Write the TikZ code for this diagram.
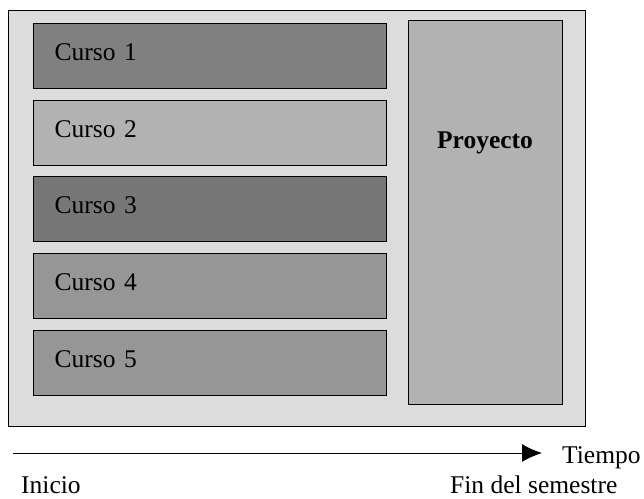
\documentclass[tikz,border=0pt]{standalone}
\usepackage{fontspec}
\setmainfont{Liberation Serif}
\usetikzlibrary{positioning,arrows.meta}
\definecolor{fondo}{HTML}{DCDCDC}
\definecolor{oscuro}{HTML}{808080}
\definecolor{claro}{HTML}{B2B2B2}
\definecolor{masoscuro}{HTML}{777777}
\definecolor{medio}{HTML}{969696}
\tikzset{
curso/.style={
  draw,
  rectangle,
  line width=1.3pt,
  minimum width=353pt,
  minimum height=65pt,
  inner xsep=21pt,
  text width=311pt,
  text height=18pt,
  text depth=9pt,
  align=left,
  anchor=north west
  },
label/.style={draw=none, fill=none, inner sep=0pt, anchor=base west}
}
\begin{document}
\begin{tikzpicture}[
    x=1pt, y=-1pt,
    font=\fontsize{25.5}{30}\selectfont,
    >={Latex[length=20pt,width=18pt]}
    ]
\useasboundingbox (0,0) rectangle (644,498);
\node[draw, line width=1.2pt, fill=fondo, minimum width=577pt, minimum height=416pt, anchor=north west] (marco) at (8,10) {};
\node[curso, fill=oscuro] (c1) at (33,23) {Curso 1};
\node[curso, fill=claro] (c2) at (33,100) {Curso 2};
\node[curso, fill=masoscuro] (c3) at (33,176) {Curso 3};
\node[curso, fill=medio] (c4) at (33,253) {Curso 4};
\node[curso, fill=medio] (c5) at (33,330) {Curso 5};
\node[draw, line width=1.3pt, fill=claro, minimum width=154pt, minimum height=384pt, anchor=north west] (proy) at (408,20) {};
\node[label, anchor=base, font=\fontsize{25.5}{30}\selectfont\bfseries] (proytxt) at (485,148) {Proyecto};
% eje del tiempo
\coordinate (ini) at (13,453);
\coordinate (fin) at (542,453);
\draw[->, line width=1pt] (ini) -- (fin);
\node[label] (tiempo) at (562,463) {Tiempo};
\node[label] (inicio) at (21,493) {Inicio};
\node[label] (finsem) at (450,493) {Fin del semestre};
\end{tikzpicture}
\end{document}
